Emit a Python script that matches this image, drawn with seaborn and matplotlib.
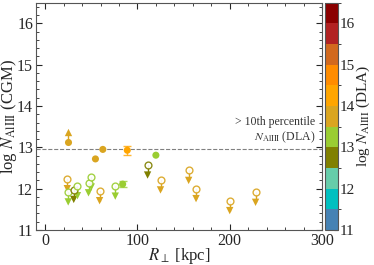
import numpy as np
import pandas as pd
import matplotlib
matplotlib.use("Agg")
import matplotlib.pyplot as plt
import matplotlib.colors as mcolors
import seaborn as sns

# detections (filled circles)
det_r = [54.5, 62.5, 89.0, 120.0, 84.0]
det_n = [12.72, 12.95, 12.93, 12.81, 12.11]
det_err = [0.0, 0.0, 0.11, 0.0, 0.07]
det_dla = [13.75, 13.75, 14.25, 13.25, 13.25]

# lower limits (filled circle + arrow up)
low_r = [24.5]
low_n = [13.13]
low_dla = [13.75]

# upper limits (open circle + arrow down)
up_r = [24, 25, 31, 35, 47, 50, 59, 76, 111, 125, 155.5, 163.5, 200, 228]
up_n = [12.24, 11.92, 11.98, 12.07, 12.14, 12.28, 11.95, 12.06, 12.57, 12.21,
        12.44, 12.00, 11.71, 11.91]
up_dla = [13.75, 13.25, 12.75, 13.25, 13.25, 13.25, 13.75, 13.25, 12.75, 13.75,
          13.75, 13.75, 13.75, 13.75]

threshold = 12.97

# colour scale for log N(AlIII) of the DLA
bounds = np.arange(11, 16.51, 0.5)
cb_colors = ["#4682B4", "#00C0C0", "#66CDAA", "#808000", "#9ACD32", "#DAA520",
             "#FFA500", "#FF8C00", "#D2691E", "#B22222", "#8B0000"]
cmap = mcolors.ListedColormap(cb_colors)
norm = mcolors.BoundaryNorm(bounds, cmap.N)

sns.set_style("ticks")
plt.rcParams["font.family"] = ["Liberation Serif", "DejaVu Serif"]
plt.rcParams["mathtext.fontset"] = "stix"
plt.rcParams["font.size"] = 11.5

fig = plt.figure(figsize=(3.74, 2.65), dpi=100)
ax = fig.add_axes([0.096, 0.132, 0.765, 0.858])
cax = fig.add_axes([0.869, 0.132, 0.036, 0.858])

det = pd.DataFrame({"r": det_r, "n": det_n, "err": det_err, "dla": det_dla})
low = pd.DataFrame({"r": low_r, "n": low_n, "dla": low_dla})
up = pd.DataFrame({"r": up_r, "n": up_n, "dla": up_dla})
arrow = 0.24

# upper limits: line down to a triangle
for _, row in up.iterrows():
    c = cmap(norm(row.dla))
    ax.plot([row.r, row.r], [row.n, row.n - arrow], color=c, lw=1.0, zorder=2)
up["tip"] = up["n"] - arrow
sns.scatterplot(data=up, x="r", y="tip", hue="dla", palette=cmap, hue_norm=norm,
                marker="v", s=28, linewidth=0, legend=False, ax=ax, zorder=3)
for _, row in up.iterrows():
    c = cmap(norm(row.dla))
    ax.scatter(row.r, row.n, s=24, facecolor="white", edgecolor=c, linewidth=1.0,
               alpha=0.9, zorder=4)

# lower limit: line up to a triangle
for _, row in low.iterrows():
    c = cmap(norm(row.dla))
    ax.plot([row.r, row.r], [row.n, row.n + arrow], color=c, lw=1.0, zorder=2)
low["tip"] = low["n"] + arrow
sns.scatterplot(data=low, x="r", y="tip", hue="dla", palette=cmap, hue_norm=norm,
                marker="^", s=28, linewidth=0, legend=False, ax=ax, zorder=3)
sns.scatterplot(data=low, x="r", y="n", hue="dla", palette=cmap, hue_norm=norm,
                s=26, linewidth=0, legend=False, ax=ax, zorder=4)

# detections
for _, row in det.iterrows():
    if row.err > 0:
        c = cmap(norm(row.dla))
        ax.errorbar(row.r, row.n, yerr=row.err, fmt="none", ecolor=c, alpha=0.8,
                    elinewidth=1.0, capsize=3, zorder=3)
sns.scatterplot(data=det, x="r", y="n", hue="dla", palette=cmap, hue_norm=norm,
                s=26, linewidth=0, legend=False, ax=ax, zorder=4)

ax.axhline(threshold, color="gray", ls="--", lw=0.8, zorder=1)
ax.text(293, threshold + 0.08, "> 10th percentile\n$N_{\\rm AlIII}$ (DLA)",
        ha="right", va="bottom", fontsize=8.5, color="#333333", linespacing=1.2)

ax.set_xlim(-10, 300)
ax.set_ylim(11, 16.5)
ax.set_xticks([0, 100, 200, 300])
ax.set_yticks([11, 12, 13, 14, 15, 16])
ax.minorticks_on()
ax.tick_params(which="both", direction="in", top=True, right=True, labelsize=11.5)
ax.tick_params(which="major", length=4, pad=2)
ax.tick_params(which="minor", length=2)
ax.set_xlabel("$R_\\perp$ [kpc]", labelpad=-2, fontsize=12)
ax.set_ylabel("log $N_{\\rm AlIII}$ (CGM)", labelpad=-1, fontsize=12)
for s in ax.spines.values():
    s.set_color("#555555")

sm = matplotlib.cm.ScalarMappable(cmap=cmap, norm=norm)
cb = fig.colorbar(sm, cax=cax, ticks=[11, 12, 13, 14, 15, 16])
cb.set_label("log $N_{\\rm AlIII}$ (DLA)", labelpad=0, fontsize=11)
cb.outline.set_color("#555555")
cax.tick_params(direction="in", length=3, pad=1, labelsize=11)

fig.savefig("out.png", dpi=100)
